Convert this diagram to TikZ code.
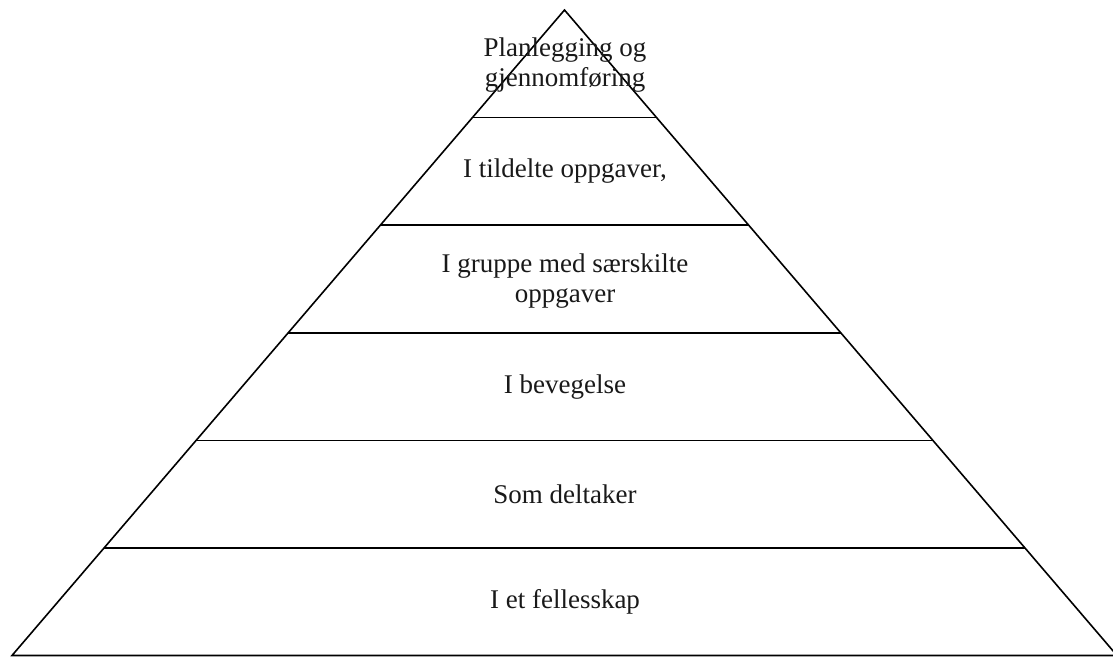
\documentclass[tikz,border=0pt]{standalone}
\usepackage{fontspec}
\setmainfont{Liberation Serif}
\usetikzlibrary{calc}

\begin{document}
\begin{tikzpicture}[
    x=1pt, y=-1pt,
    side/.style={draw=black, line width=1.6pt, line join=miter},
    level/.style={draw=black, line width=1.6pt},
    label/.style={font=\fontsize{27}{30}\selectfont, align=center, text=black!90}
]
\useasboundingbox (0,0) rectangle (1113,657);

% Pyramid outline
\coordinate (apex) at (564.5,10);
\coordinate (bl) at (12,655.5);
\coordinate (br) at (1117,655.5);
\draw[side] (apex) -- (bl) -- (br) -- cycle;

% Level separators
\foreach \k in {1,...,5}{
    \coordinate (l\k) at ($(apex)!\k/6!(bl)$);
    \coordinate (r\k) at ($(apex)!\k/6!(br)$);
    \draw[level] (l\k) -- (r\k);
}

% Labels, top to bottom
\node[label] (planning) at (565,65) {Planlegging og\\gjennomføring};
\node[label] (tasks) at (565,171) {I tildelte oppgaver,};
\node[label] (group) at (565,281) {I gruppe med særskilte\\oppgaver};
\node[label] (movement) at (565,387) {I bevegelse};
\node[label] (participant) at (565,494) {Som deltaker};
\node[label] (community) at (565,602) {I et fellesskap};

\end{tikzpicture}
\end{document}
